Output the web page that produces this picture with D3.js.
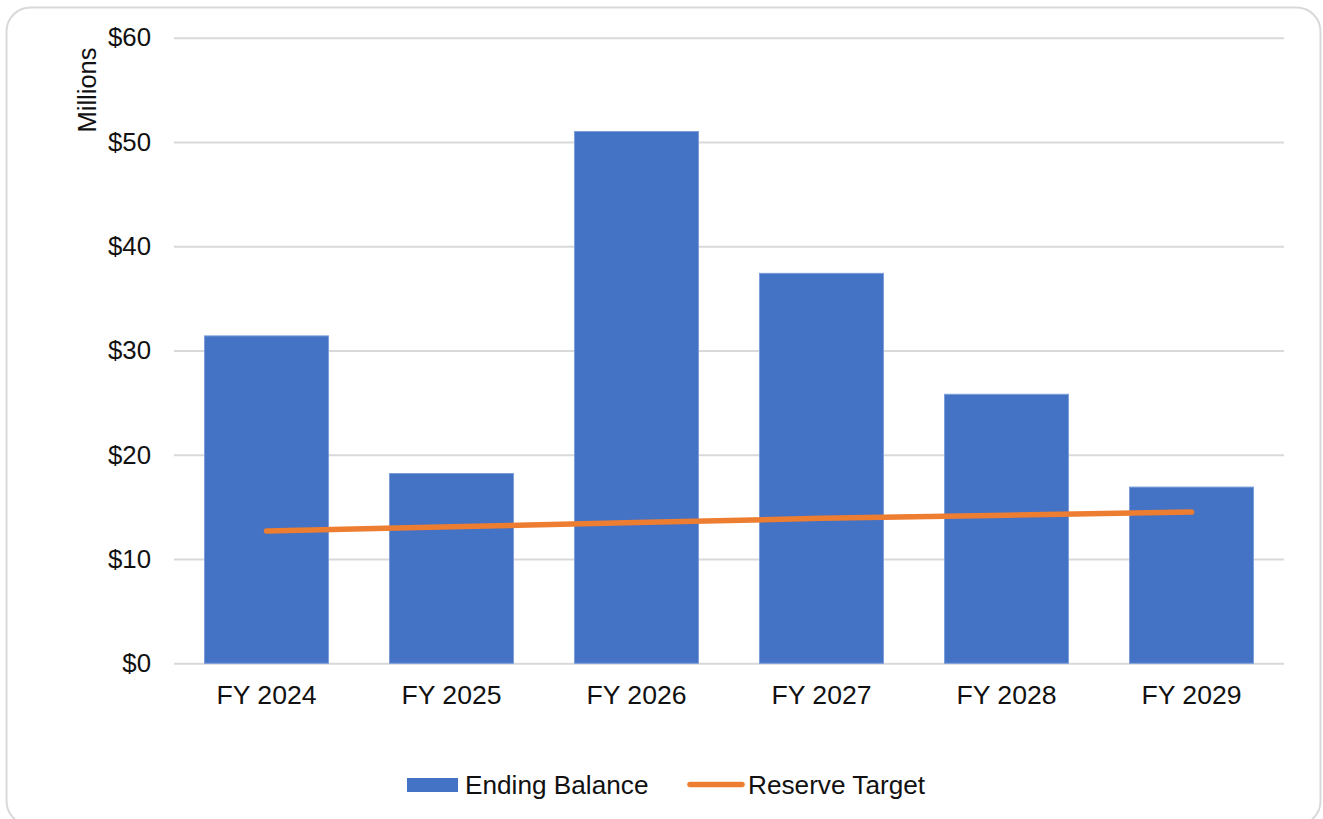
<!DOCTYPE html>
<html>
<head>
<meta charset="utf-8">
<script src="https://cdn.jsdelivr.net/npm/d3@7"></script>
<style>
  html, body { margin: 0; padding: 0; background: #fff; }
  svg { display: block; }
  text { font-family: "Liberation Sans", Arial, sans-serif; fill: #111; }
</style>
</head>
<body>
<svg id="chart" width="1323" height="819"></svg>
<script>
// Fiscal years shown on the category axis
const categories = ["FY 2024", "FY 2025", "FY 2026", "FY 2027", "FY 2028", "FY 2029"];
// Ending fund balance, $ millions
const endingBalance = [31.4, 18.2, 51.0, 37.4, 25.8, 16.9];
// Reserve target, $ millions
const reserveTarget = [12.7, 13.1, 13.5, 13.9, 14.2, 14.5];
// Value axis ticks
const yTicks = [0, 10, 20, 30, 40, 50, 60];
const seriesNames = ["Ending Balance", "Reserve Target"];

const svg = d3.select("#chart");
const blue = "#4472C4", orange = "#ED7D31", grid = "#d9d9d9";

// rounded chart frame
svg.append("rect")
  .attr("x", 6.5).attr("y", 7.5)
  .attr("width", 1314).attr("height", 817.5)
  .attr("rx", 24).attr("ry", 24)
  .attr("fill", "#fff").attr("stroke", grid).attr("stroke-width", 2);

const plot = { left: 174, right: 1284, top: 37.7, bottom: 663.3 };

const x = d3.scaleBand()
  .domain(categories)
  .range([plot.left, plot.right])
  .paddingInner(0.33)
  .paddingOuter(0.165);

const y = d3.scaleLinear()
  .domain([0, 60])
  .range([plot.bottom, plot.top]);

// horizontal gridlines with value labels
const yAxis = d3.axisLeft(y)
  .tickValues(yTicks)
  .tickSize(-(plot.right - plot.left))
  .tickPadding(23)
  .tickFormat(d => "$" + d);

const gy = svg.append("g")
  .attr("transform", `translate(${plot.left},0)`)
  .call(yAxis);
gy.select(".domain").remove();
gy.selectAll(".tick line").attr("stroke", grid).attr("stroke-width", 2);
gy.selectAll(".tick text")
  .attr("font-size", 25.8)
  .attr("fill", "#111")
  .style("font-family", "'Liberation Sans', Arial, sans-serif");

// axis title
svg.append("text")
  .attr("transform", `translate(96,90) rotate(-90)`)
  .attr("text-anchor", "middle")
  .attr("font-size", 25.5)
  .text("Millions");

// bars
svg.append("g").selectAll("rect")
  .data(categories)
  .join("rect")
  .attr("x", d => x(d))
  .attr("width", x.bandwidth())
  .attr("y", (d, i) => y(endingBalance[i]))
  .attr("height", (d, i) => y(0) - y(endingBalance[i]))
  .attr("fill", blue)
  .attr("stroke", "#7b9ddb")
  .attr("stroke-width", 1);

// category axis
const xAxis = d3.axisBottom(x).tickSize(0).tickPadding(22);
const gx = svg.append("g")
  .attr("transform", `translate(0,${plot.bottom})`)
  .call(xAxis);
gx.select(".domain").remove();
gx.selectAll(".tick text")
  .attr("font-size", 26.6)
  .attr("fill", "#111")
  .style("font-family", "'Liberation Sans', Arial, sans-serif");

// reserve target line
const line = d3.line()
  .x((d, i) => x(categories[i]) + x.bandwidth() / 2)
  .y(d => y(d));
svg.append("path")
  .datum(reserveTarget)
  .attr("d", line)
  .attr("fill", "none")
  .attr("stroke", orange)
  .attr("stroke-width", 5.5)
  .attr("stroke-linecap", "round")
  .attr("stroke-linejoin", "round");

// legend
const lg = svg.append("g");
lg.append("rect")
  .attr("x", 407).attr("y", 778)
  .attr("width", 51).attr("height", 14)
  .attr("fill", blue);
lg.append("text")
  .attr("x", 465).attr("y", 785)
  .attr("dominant-baseline", "central")
  .attr("font-size", 26.2)
  .text(seriesNames[0]);
lg.append("line")
  .attr("x1", 690).attr("x2", 742)
  .attr("y1", 784.5).attr("y2", 784.5)
  .attr("stroke", orange).attr("stroke-width", 5.5)
  .attr("stroke-linecap", "round");
lg.append("text")
  .attr("x", 748).attr("y", 785)
  .attr("dominant-baseline", "central")
  .attr("font-size", 26.2)
  .text(seriesNames[1]);
</script>
</body>
</html>
